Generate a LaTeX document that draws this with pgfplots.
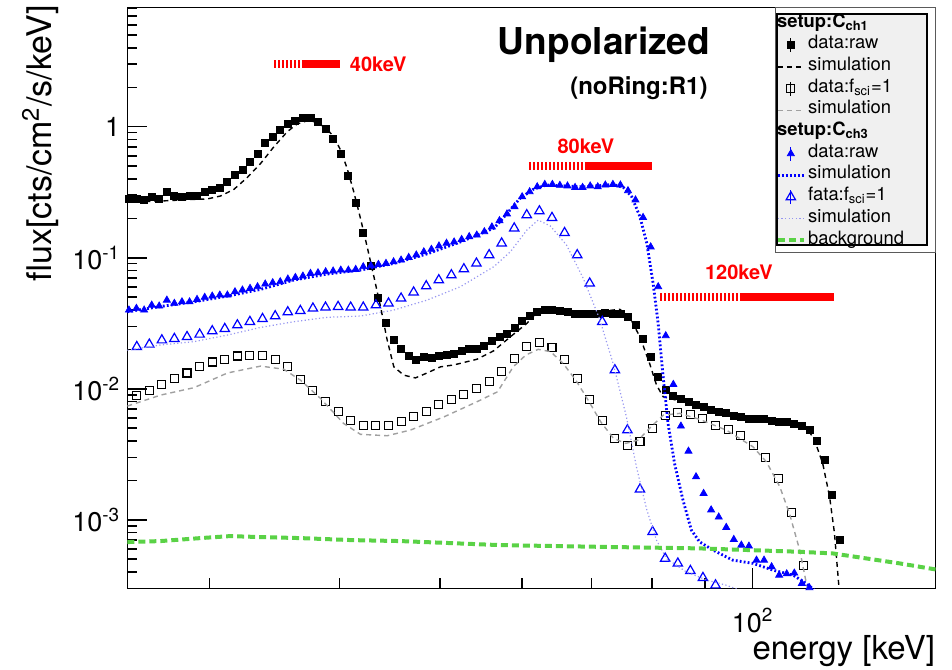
\documentclass[border=0pt]{standalone}
\usepackage{fontspec}
\setmainfont{TeX Gyre Heros}
\usepackage{pgfplots}
\pgfplotsset{compat=1.18}
\usepackage{pgfplotstable}
\usetikzlibrary{calc}
\definecolor{bggreen}{RGB}{90,210,70}
\definecolor{lav}{RGB}{150,150,240}
\definecolor{simgray}{RGB}{160,160,160}
\definecolor{legfill}{RGB}{240,240,240}
\definecolor{frame}{RGB}{90,90,90}

% fine binning: E, ch1 raw, ch3 raw
\pgfplotstableread{
E c1 c3
25.09 0.281 0.0399
25.51 0.279 0.0411
25.95 0.276 0.0399
26.39 0.292 0.0435
26.83 0.282 0.0428
27.29 0.316 0.0475
27.75 0.296 0.0449
28.22 0.291 0.0461
28.70 0.296 0.0461
29.18 0.296 0.0481
29.68 0.319 0.0499
30.18 0.329 0.0510
30.69 0.344 0.0519
31.21 0.378 0.0519
31.74 0.426 0.0550
32.27 0.467 0.0567
32.82 0.541 0.0584
33.37 0.619 0.0601
33.94 0.747 0.0630
34.51 0.830 0.0645
35.09 0.944 0.0656
35.69 1.049 0.0688
36.29 1.105 0.0708
36.90 1.159 0.0725
37.53 1.159 0.0760
38.16 1.086 0.0768
38.81 0.955 0.0782
39.46 0.805 0.0792
40.13 0.619 0.0805
40.81 0.420 0.0805
41.48 0.263 0.0815
42.18 0.156 0.0854
42.90 0.0869 0.0869
43.62 0.0492 0.0890
44.36 0.0316 0.0906
45.11 0.0238 0.0932
45.87 0.0203 0.0960
46.65 0.0178 0.1006
47.44 0.0166 0.105
48.24 0.0174 0.111
49.06 0.0171 0.116
49.89 0.0179 0.123
50.73 0.0182 0.129
51.59 0.0186 0.132
52.46 0.0195 0.138
53.35 0.0203 0.145
54.25 0.0203 0.149
55.17 0.0213 0.158
56.10 0.0232 0.172
57.05 0.0247 0.192
58.01 0.0262 0.216
58.99 0.0289 0.245
59.99 0.0330 0.292
61.00 0.0361 0.319
62.03 0.0383 0.348
63.08 0.0397 0.363
64.15 0.0397 0.363
65.23 0.0394 0.357
66.34 0.0383 0.353
67.46 0.0376 0.344
68.60 0.0372 0.344
69.76 0.0372 0.353
70.94 0.0372 0.348
72.14 0.0380 0.359
73.36 0.0376 0.363
74.60 0.0376 0.359
75.86 0.0355 0.325
77.14 0.0306 0.276
78.45 0.0242 0.203
79.78 0.0174 0.121
81.11 0.0124 0.0601
82.48 0.00989 0.0254
83.88 0.00879 0.0108
85.30 0.00830 0.00519
86.74 0.00796 0.00334
88.21 0.00751 0.00213
89.70 0.00721 0.00159
91.21 0.00688 0.00119
92.76 0.00664 0.00105
94.32 0.00649 0.000875
95.91 0.00622 0.000708
97.53 0.00611 0.000641
99.18 0.00594 0.000630
100.86 0.00590 0.000492
102.56 0.00584 0.000492
104.30 0.00564 0.000438
106.06 0.00561 0.000378
107.85 0.00557 0.000387
109.68 0.00538 0.000392
111.53 0.00519 0.000327
113.42 0.00484 0.000303
115.33 0.00401 nan
117.28 0.00286 nan
119.27 0.00156 nan
121.28 0.000700 nan
}\finebins

% coarse binning: E, ch1 fsci=1, ch3 fsci=1
\pgfplotstableread{
E c1 c3
25.53 0.00891 0.0209
26.25 0.00977 0.0218
26.99 0.0108 0.0235
27.75 0.0120 0.0241
28.54 0.0132 0.0249
29.35 0.0147 0.0260
30.18 0.0160 0.0276
31.03 0.0168 0.0287
31.91 0.0178 0.0306
32.81 0.0179 0.0325
33.74 0.0179 0.0342
34.70 0.0166 0.0359
35.68 0.0147 0.0385
36.69 0.0118 0.0394
37.73 0.00977 0.0411
38.80 0.00796 0.0418
39.90 0.00668 0.0423
41.02 0.00570 0.0418
42.18 0.00528 0.0418
43.38 0.00522 0.0435
44.61 0.00522 0.0449
45.87 0.00560 0.0490
47.16 0.00619 0.0545
48.50 0.00676 0.0608
49.87 0.00760 0.0676
51.28 0.00834 0.0738
52.72 0.00906 0.0820
54.21 0.0100 0.0906
55.76 0.0113 0.105
57.33 0.0135 0.129
58.95 0.0171 0.168
60.61 0.0209 0.212
62.33 0.0225 0.227
64.10 0.0206 0.202
65.91 0.0166 0.155
67.78 0.0120 0.105
69.69 0.00830 0.0638
71.66 0.00570 0.0325
73.69 0.00415 0.0139
75.77 0.00372 0.00484
77.91 0.00399 0.00171
80.11 0.00501 0.000810
82.38 0.00622 0.000507
84.72 0.00661 0.000465
87.11 0.00637 0.000408
89.57 0.00590 0.000361
92.10 0.00528 0.000317
94.71 0.00490 nan
97.40 0.00441 nan
100.15 0.00370 nan
102.99 0.00299 nan
105.90 0.00207 nan
108.90 0.00113 nan
111.98 0.000446 nan
}\coarsebins

% simulation ch1 raw
\pgfplotstableread{
E v
25.0 0.266
26.92 0.271
28.99 0.279
29.85 0.281
30.74 0.296
31.67 0.333
32.63 0.411
33.60 0.525
34.60 0.703
35.64 0.916
36.43 1.049
37.26 1.111
38.08 1.086
38.94 0.955
39.52 0.839
40.11 0.664
40.70 0.481
41.30 0.319
41.92 0.200
42.55 0.121
43.19 0.0716
43.83 0.0422
44.48 0.0235
45.14 0.0147
46.15 0.0127
47.35 0.0121
48.59 0.0132
50.05 0.0147
51.55 0.0152
54.27 0.0168
56.33 0.0195
58.44 0.0249
60.64 0.0316
61.5 0.0361
63.3 0.0387
66.2 0.0383
69.2 0.0376
72.3 0.0394
74.5 0.0404
76.1 0.0355
77.9 0.0249
79.6 0.0156
80.8 0.0107
82.0 0.00869
84.4 0.00820
88.9 0.00729
95.7 0.00630
103.1 0.00577
109.4 0.00560
112.6 0.00513
114.7 0.00406
116.8 0.00270
118.6 0.00150
119.9 0.000788
121.2 0.00028
}\simA

% simulation ch1 fsci=1
\pgfplotstableread{
E v
25.0 0.00738
26.92 0.00895
28.99 0.0102
31.22 0.0132
33.60 0.0149
35.37 0.0141
36.72 0.0116
38.37 0.00844
40.38 0.00544
41.92 0.00449
44.48 0.00438
46.83 0.00484
50.46 0.00611
54.27 0.00796
56.80 0.00948
58.82 0.0147
60.49 0.0181
62.16 0.0200
63.90 0.0192
65.71 0.0156
67.58 0.0116
69.44 0.00820
71.41 0.00560
73.46 0.00418
75.48 0.00383
77.63 0.00406
79.83 0.00513
82.06 0.00630
85.08 0.00649
88.92 0.00584
94.32 0.00484
100.07 0.00361
103.1 0.00277
106.2 0.00179
108.5 0.00112
111.0 0.000587
113.0 0.000290
}\simB

% simulation ch3 raw
\pgfplotstableread{
E v
25.0 0.0387
26.92 0.0425
28.99 0.0461
31.22 0.0510
33.60 0.0574
36.17 0.0676
38.94 0.0751
41.92 0.0805
45.14 0.0906
48.59 0.107
52.31 0.132
56.33 0.168
57.1 0.188
59.7 0.284
61.5 0.333
63.3 0.359
68.7 0.348
73.4 0.363
75.1 0.344
76.5 0.292
77.9 0.206
79.1 0.129
80.2 0.0638
81.1 0.0316
82.0 0.0124
82.9 0.00544
84.1 0.00270
85.7 0.00141
87.3 0.000834
88.9 0.000679
91.6 0.000587
95.7 0.000492
100.1 0.000465
104.6 0.000413
109.4 0.000378
112.6 0.000327
114.7 0.000290
}\simC

% simulation ch3 fsci=1
\pgfplotstableread{
E v
25.0 0.0197
26.92 0.0216
28.99 0.0229
31.22 0.0257
33.60 0.0294
36.17 0.0325
38.94 0.0351
41.92 0.0359
45.14 0.0399
48.59 0.0475
52.31 0.0601
56.33 0.0854
58.44 0.111
60.64 0.163
62.16 0.194
63.85 0.175
66.2 0.125
68.7 0.0696
71.2 0.0345
73.4 0.0156
75.6 0.00611
77.3 0.00254
79.1 0.00119
80.8 0.000700
82.6 0.000507
86.3 0.000401
90.3 0.000347
94.3 0.000317
97.2 0.000290
}\simD

% background
\pgfplotstableread{
E v
25.0 0.000676
26.9 0.000688
29.4 0.000725
31.4 0.000751
33.6 0.000738
36.7 0.000725
41.1 0.000700
45.8 0.000688
51.2 0.000664
57.1 0.000641
71.2 0.000622
88.9 0.000605
111.0 0.000570
119.4 0.000554
128.7 0.000507
138.5 0.000465
150.0 0.000418
}\bkg

\pgfplotsset{
  errleg/.style={legend image code/.code={
      \draw[line width=0.5pt,#1] (6.5pt,-3.5pt)--(6.5pt,3.5pt);
      \draw[mark repeat=2,mark phase=2,##1] plot coordinates {(0pt,0pt)(6.5pt,0pt)(13pt,0pt)};}},
  lineleg/.style={legend image code/.code={\draw[##1] (0pt,0pt)--(13pt,0pt);}},
}

\begin{document}
\begin{tikzpicture}
\begin{axis}[
  scale only axis, width=404.1pt, height=290.3pt,
  xmode=log, ymode=log,
  xmin=25, xmax=150, ymin=3e-4, ymax=8.1,
  clip mode=individual,
  axis line style={line width=0.75pt},
  tick align=inside, tick pos=left,
  major tick length=10pt, minor tick length=5pt,
  every tick/.style={black, line width=0.75pt},
  xtick={100}, xticklabels={10\textsuperscript{2}},
  minor xtick={30,40,50,60,70,80,90},
  ytick={0.001,0.01,0.1,1},
  yticklabels={10\textsuperscript{-3},10\textsuperscript{-2},10\textsuperscript{-1},1},
  minor ytick={4e-4,5e-4,6e-4,7e-4,8e-4,9e-4,2e-3,3e-3,4e-3,5e-3,6e-3,7e-3,8e-3,9e-3,0.02,0.03,0.04,0.05,0.06,0.07,0.08,0.09,0.2,0.3,0.4,0.5,0.6,0.7,0.8,0.9,2,3,4,5,6,7,8},
  tick label style={font=\fontsize{13.5}{15}\selectfont},
  xticklabel style={yshift=-6.5pt},
  legend cell align=left,
  legend style={at={(rel axis cs:0.8039,0.9891)}, anchor=north west, yshift=0.9pt, xshift=-0.8pt,
    draw=none, fill=none, inner xsep=0pt, inner ysep=0pt, row sep=0pt,
    font=\fontsize{9.2}{10}\selectfont,
    nodes={inner xsep=1.2pt, inner ysep=0pt, text height=7.2pt, text depth=3.65pt}},
]
% ---- ch1 ----
\addlegendimage{empty legend}
\addlegendentry{\hspace*{-15.5pt}\textbf{setup:C\textsubscript{ch1}}}
\addplot[only marks, mark=square*, mark size=1.75pt, black, errleg={black}] table[x=E,y=c1] {\finebins};
\addlegendentry{data:raw}
\addplot[black, line width=0.7pt, dash pattern=on 2.5pt off 2pt, lineleg] table[x=E,y=v] {\simA};
\addlegendentry{simulation}
\addplot[only marks, mark=square, mark size=2pt, black, mark options={line width=0.55pt}, errleg={black}] table[x=E,y=c1] {\coarsebins};
\addlegendentry{data:f\textsubscript{sci}=1}
\addplot[simgray, line width=0.7pt, dash pattern=on 2.5pt off 2pt, lineleg] table[x=E,y=v] {\simB};
\addlegendentry{simulation}
% ---- ch3 ----
\addlegendimage{empty legend}
\addlegendentry{\hspace*{-15.5pt}\textbf{setup:C\textsubscript{ch3}}}
\addplot[only marks, mark=triangle*, mark size=2.0pt, blue, errleg={blue}] table[x=E,y=c3] {\finebins};
\addlegendentry{data:raw}
\addplot[blue, line width=1.4pt, dash pattern=on 0.9pt off 1.1pt, lineleg] table[x=E,y=v] {\simC};
\addlegendentry{simulation}
\addplot[only marks, mark=triangle, mark size=2.7pt, blue, mark options={line width=0.6pt}, errleg={blue}] table[x=E,y=c3] {\coarsebins};
\addlegendentry{fata:f\textsubscript{sci}=1}
\addplot[lav, line width=0.6pt, dash pattern=on 0.6pt off 1.2pt, lineleg] table[x=E,y=v] {\simD};
\addlegendentry{simulation}
\addplot[bggreen, line width=2pt, dash pattern=on 3.5pt off 2pt, lineleg] table[x=E,y=v] {\bkg};
\addlegendentry{background}
% ---- energy windows ----
\addplot[forget plot, red, line width=4pt, dash pattern=on 1pt off 1pt] coordinates {(34.6,3.0) (37.0,3.0)};
\addplot[forget plot, red, line width=4pt] coordinates {(37.0,3.0) (40.1,3.0)};
\addplot[forget plot, red, line width=4pt, dash pattern=on 1pt off 1pt] coordinates {(60.9,0.5) (69.2,0.5)};
\addplot[forget plot, red, line width=4pt] coordinates {(69.2,0.5) (80.0,0.5)};
\addplot[forget plot, red, line width=4pt, dash pattern=on 1pt off 1pt] coordinates {(81.5,0.05) (97.2,0.05)};
\addplot[forget plot, red, line width=4pt] coordinates {(97.2,0.05) (119.7,0.05)};
\node[red, font=\bfseries\fontsize{10}{11}\selectfont] at (axis cs:43.6,3.0) {40keV};
\node[red, font=\bfseries\fontsize{10}{11}\selectfont] at (axis cs:69.1,0.712) {80keV};
\node[red, font=\bfseries\fontsize{10}{11}\selectfont] at (axis cs:97.0,0.0778) {120keV};
% ---- titles ----
\node[font=\bfseries\fontsize{18.5}{20}\selectfont] at (rel axis cs:0.5898,0.9358) {Unpolarized};
\node[font=\bfseries\fontsize{12}{14}\selectfont] at (rel axis cs:0.633,0.8617) {(noRing:R1)};
% ---- legend boxes ----
\draw[frame, line width=0.5pt, fill=white] (rel axis cs:0.8014,0.5792) rectangle (rel axis cs:1,1);
\draw[black, line width=0.6pt, fill=legfill] (rel axis cs:0.8039,0.5913) rectangle (rel axis cs:0.9895,0.9891);
% ---- axis labels ----
\node[anchor=east, inner sep=0pt, font=\fontsize{16.5}{18}\selectfont] at ($(rel axis cs:1,0)+(0pt,-31.5pt)$) {energy [keV]};
\node[rotate=90, anchor=east, inner sep=0pt, font=\fontsize{17}{19}\selectfont] at ($(rel axis cs:0,1)+(-43.5pt,1.3pt)$) {flux[cts/cm\textsuperscript{2}/s/keV]};
\coordinate (SW) at (rel axis cs:0,0);
\coordinate (NE) at (rel axis cs:1,1);
\end{axis}
\pgfresetboundingbox
\path ($(SW)+(-63.65pt,-40.35pt)$) rectangle ($(NE)+(8.25pt,3.85pt)$);
\end{tikzpicture}
\end{document}
